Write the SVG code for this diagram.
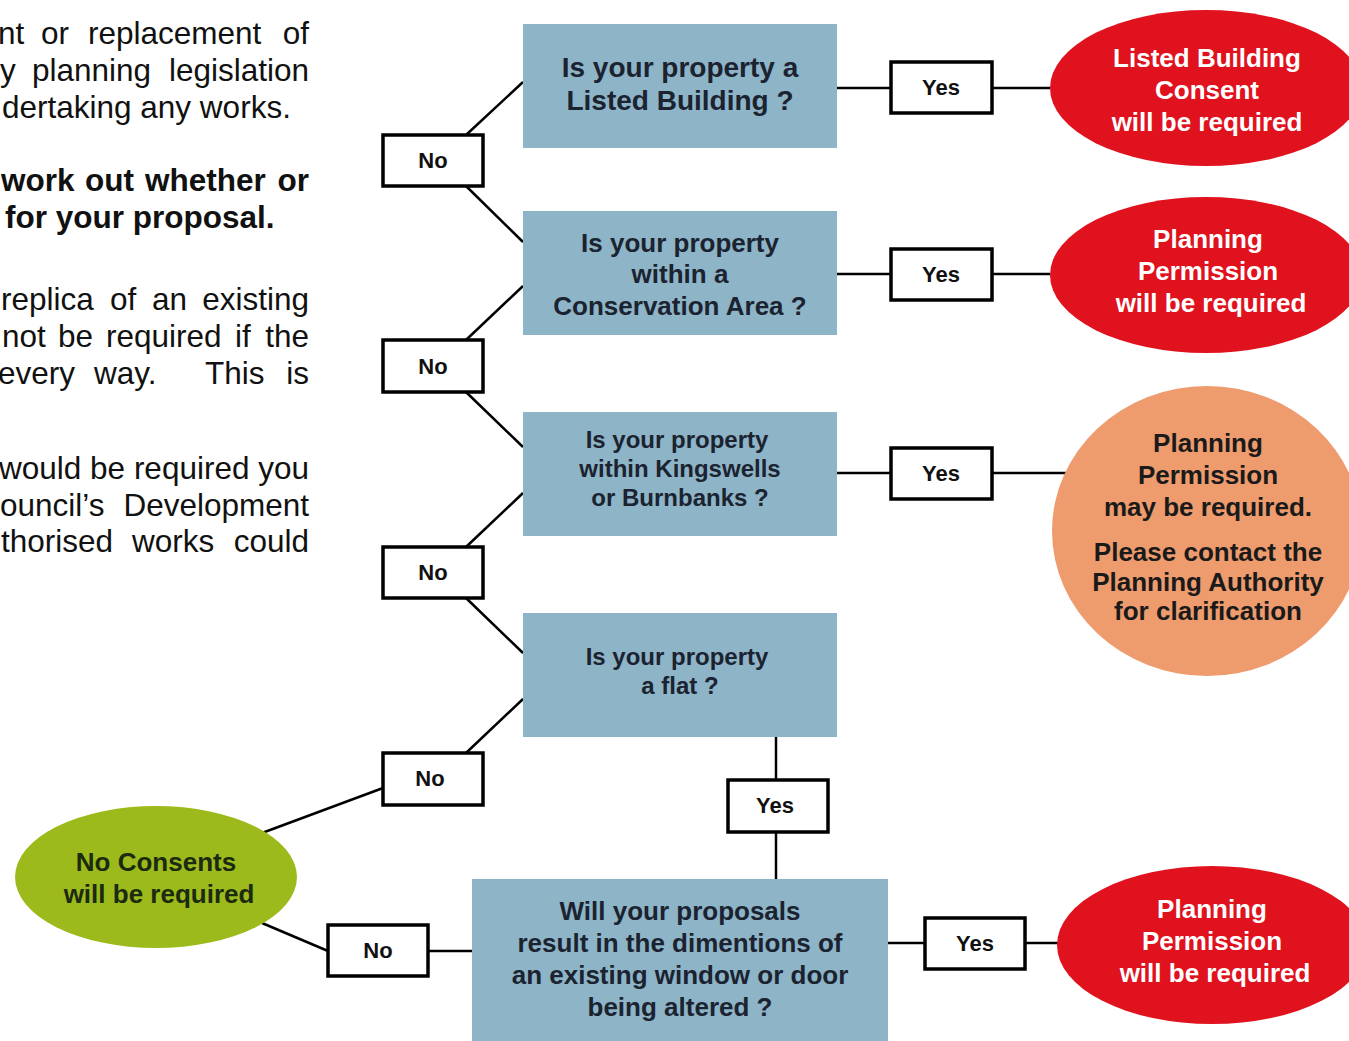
<svg xmlns="http://www.w3.org/2000/svg" width="1349" height="1041" viewBox="0 0 1349 1041">
<style>
.para{font-family:"Liberation Sans",Arial,sans-serif;font-size:31.5px;fill:#111}
.b{font-weight:bold}
.q{fill:#8db4c7}
.qt{font-family:"Liberation Sans",Arial,sans-serif;font-weight:bold;fill:#1c2330;text-anchor:middle}
.lab{fill:#fff;stroke:#000;stroke-width:3.5}
.lt{font-family:"Liberation Sans",Arial,sans-serif;font-weight:bold;font-size:22px;fill:#111;text-anchor:middle}
.ot{font-family:"Liberation Sans",Arial,sans-serif;font-weight:bold;font-size:26px;text-anchor:middle}
.w{fill:#fff}
.k{fill:#1a1a1a}
.red{fill:#e0121e}
.conn line{stroke:#000;stroke-width:2.5}
</style>
<rect width="1349" height="1041" fill="#fff"/>

<g id="intro-text" class="para">
<text y="44"><tspan x="-2">nt</tspan><tspan x="41">or</tspan><tspan x="88">replacement</tspan><tspan x="309" text-anchor="end">of</tspan></text>
<text y="81"><tspan x="0">y</tspan><tspan x="32">planning</tspan><tspan x="309" text-anchor="end">legislation</tspan></text>
<text x="2" y="118">dertaking any works.</text>
<text class="b" y="191"><tspan x="1">work</tspan><tspan x="85">out</tspan><tspan x="145">whether</tspan><tspan x="309" text-anchor="end">or</tspan></text>
<text class="b" x="5" y="228">for your proposal.</text>
<text y="310"><tspan x="1">replica</tspan><tspan x="110">of</tspan><tspan x="152">an</tspan><tspan x="309" text-anchor="end">existing</tspan></text>
<text y="347"><tspan x="2">not</tspan><tspan x="58">be</tspan><tspan x="106">required</tspan><tspan x="235">if</tspan><tspan x="309" text-anchor="end">the</tspan></text>
<text y="384"><tspan x="-2">every</tspan><tspan x="94">way.</tspan><tspan x="205">This</tspan><tspan x="309" text-anchor="end">is</tspan></text>
<text y="479"><tspan x="309" text-anchor="end">would be required you</tspan></text>
<text y="516"><tspan x="0">ouncil’s</tspan><tspan x="309" text-anchor="end">Development</tspan></text>
<text y="552"><tspan x="1">thorised</tspan><tspan x="132">works</tspan><tspan x="309" text-anchor="end">could</tspan></text>
</g>

<g id="connectors" class="conn">
<line x1="523" y1="82" x2="466" y2="135"/>
<line x1="466" y1="186" x2="523" y2="242"/>
<line x1="523" y1="286" x2="466" y2="340"/>
<line x1="466" y1="392" x2="523" y2="447"/>
<line x1="523" y1="493" x2="466" y2="547"/>
<line x1="466" y1="598" x2="523" y2="653"/>
<line x1="523" y1="699" x2="466" y2="753"/>
<line x1="383" y1="788" x2="262" y2="833"/>
<line x1="776" y1="737" x2="776" y2="780"/>
<line x1="776" y1="832" x2="776" y2="879"/>
<line x1="262" y1="923" x2="328" y2="951"/>
<line x1="428" y1="951" x2="472" y2="951"/>
<line x1="837" y1="88" x2="891" y2="88"/>
<line x1="992" y1="88" x2="1050" y2="88"/>
<line x1="837" y1="274" x2="891" y2="274"/>
<line x1="992" y1="274" x2="1050" y2="274"/>
<line x1="837" y1="473" x2="891" y2="473"/>
<line x1="992" y1="473" x2="1068" y2="473"/>
<line x1="888" y1="943" x2="925" y2="943"/>
<line x1="1025" y1="943" x2="1058" y2="943"/>
</g>

<g id="q-listed">
<rect class="q" x="523" y="24" width="314" height="124"/>
<text class="qt" font-size="28" x="680" y="77">Is your property a</text>
<text class="qt" font-size="28" x="680" y="110">Listed Building ?</text>
</g>
<g id="q-conservation">
<rect class="q" x="523" y="211" width="314" height="124"/>
<text class="qt" font-size="26" x="680" y="252">Is your property</text>
<text class="qt" font-size="26" x="680" y="283">within a</text>
<text class="qt" font-size="26" x="680" y="315">Conservation Area ?</text>
</g>
<g id="q-kingswells">
<rect class="q" x="523" y="412" width="314" height="124"/>
<text class="qt" font-size="24" x="677" y="448">Is your property</text>
<text class="qt" font-size="24" x="680" y="477">within Kingswells</text>
<text class="qt" font-size="24" x="680" y="506">or Burnbanks ?</text>
</g>
<g id="q-flat">
<rect class="q" x="523" y="613" width="314" height="124"/>
<text class="qt" font-size="24" x="677" y="665">Is your property</text>
<text class="qt" font-size="24" x="680" y="694">a flat ?</text>
</g>
<g id="q-dimensions">
<rect class="q" x="472" y="879" width="416" height="162"/>
<text class="qt" font-size="26" x="680" y="920">Will your proposals</text>
<text class="qt" font-size="26" x="680" y="952">result in the dimentions of</text>
<text class="qt" font-size="26" x="680" y="984">an existing window or door</text>
<text class="qt" font-size="26" x="680" y="1016">being altered ?</text>
</g>

<g id="no-1"><rect class="lab" x="383" y="135" width="100" height="51"/><text class="lt" x="433" y="168">No</text></g>
<g id="no-2"><rect class="lab" x="383" y="340" width="100" height="52"/><text class="lt" x="433" y="374">No</text></g>
<g id="no-3"><rect class="lab" x="383" y="547" width="100" height="51"/><text class="lt" x="433" y="580">No</text></g>
<g id="no-4"><rect class="lab" x="383" y="753" width="100" height="52"/><text class="lt" x="430" y="786">No</text></g>
<g id="no-5"><rect class="lab" x="328" y="925" width="100" height="51"/><text class="lt" x="378" y="958">No</text></g>

<g id="yes-1"><rect class="lab" x="891" y="62" width="101" height="51"/><text class="lt" x="941" y="95">Yes</text></g>
<g id="yes-2"><rect class="lab" x="891" y="249" width="101" height="51"/><text class="lt" x="941" y="282">Yes</text></g>
<g id="yes-3"><rect class="lab" x="891" y="448" width="101" height="51"/><text class="lt" x="941" y="481">Yes</text></g>
<g id="yes-4"><rect class="lab" x="728" y="780" width="100" height="52"/><text class="lt" x="775" y="813">Yes</text></g>
<g id="yes-5"><rect class="lab" x="925" y="918" width="100" height="51"/><text class="lt" x="975" y="951">Yes</text></g>

<g id="out-listed">
<ellipse class="red" cx="1206" cy="88" rx="156" ry="78"/>
<text class="ot w" x="1207" y="67">Listed Building</text>
<text class="ot w" x="1207" y="99">Consent</text>
<text class="ot w" x="1207" y="131">will be required</text>
</g>
<g id="out-planning-1">
<ellipse class="red" cx="1206" cy="275" rx="156" ry="78"/>
<text class="ot w" x="1208" y="248">Planning</text>
<text class="ot w" x="1208" y="280">Permission</text>
<text class="ot w" x="1211" y="312">will be required</text>
</g>
<g id="out-may">
<ellipse fill="#ee9b6d" cx="1207" cy="531" rx="155" ry="145"/>
<text class="ot k" x="1208" y="452">Planning</text>
<text class="ot k" x="1208" y="484">Permission</text>
<text class="ot k" x="1208" y="516">may be required.</text>
<text class="ot k" font-size="24" x="1208" y="561">Please contact the</text>
<text class="ot k" font-size="24" x="1208" y="591">Planning Authority</text>
<text class="ot k" font-size="24" x="1208" y="620">for clarification</text>
</g>
<g id="out-none">
<ellipse fill="#9cba1b" cx="156" cy="877" rx="141" ry="71"/>
<text class="ot" fill="#1b2a10" x="156" y="871">No Consents</text>
<text class="ot" fill="#1b2a10" x="159" y="903">will be required</text>
</g>
<g id="out-planning-2">
<ellipse class="red" cx="1212" cy="945" rx="155" ry="79"/>
<text class="ot w" x="1212" y="918">Planning</text>
<text class="ot w" x="1212" y="950">Permission</text>
<text class="ot w" x="1215" y="982">will be required</text>
</g>
</svg>
